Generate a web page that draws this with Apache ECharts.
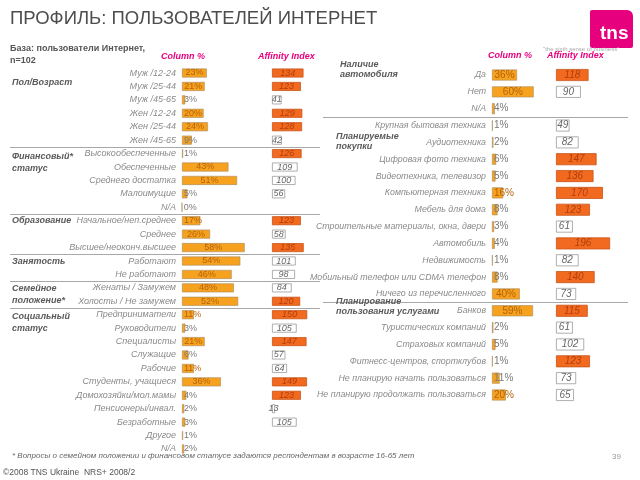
<!DOCTYPE html>
<html><head><meta charset="utf-8">
<script src="https://cdn.jsdelivr.net/npm/echarts@6/dist/echarts.min.js"></script>
<style>html,body{margin:0;padding:0;background:#fff}#c{width:640px;height:480px}</style>
</head><body><div id="c"></div><script>
// ---------- DATA ----------
const leftCategories = [
  'Муж /12-24','Муж /25-44','Муж /45-65','Жен /12-24','Жен /25-44','Жен /45-65',
  'Высокообеспеченные','Обеспеченные','Среднего достатка','Малоимущие','N/A',
  'Начальное/неп.среднее','Среднее','Высшее/неоконч.высшее',
  'Работают','Не работают',
  'Женаты / Замужем','Холосты / Не замужем',
  'Предприниматели','Руководители','Специалисты','Служащие','Рабочие',
  'Студенты, учащиеся','Домохозяйки/мол.мамы','Пенсионеры/инвал.','Безработные','Другое','N/A'
];
const leftColumnPct = [23,21,3,20,24,9, 1,43,51,5,0, 17,26,58, 54,46, 48,52, 11,3,21,6,11,36,4,2,3,1,2];
const leftAffinity  = [134,123,41,129,128,42, 126,109,100,56,null, 123,58,135, 101,98, 84,120, 150,105,147,57,64,149,123,13,105,null,null];
const leftGroupNames = ['Пол/Возраст','Финансовый*\nстатус','Образование','Занятость','Семейное\nположение*','Социальный\nстатус'];
const leftGroupStart = [0,6,11,14,16,18];

const rightCategories = [
  'Да','Нет','N/A',
  'Крупная бытовая техника','Аудиотехника','Цифровая фото техника','Видеотехника, телевизор',
  'Компьютерная техника','Мебель для дома','Строительные материалы, окна, двери','Автомобиль',
  'Недвижимость','Мобильный телефон или CDMA телефон','Ничего из перечисленного',
  'Банков','Туристических компаний','Страховых компаний','Фитнесс-центров, спортклубов',
  'Не планирую начать пользоваться','Не планирую продолжать пользоваться'
];
const rightColumnPct = [36,60,4, 1,2,6,5,16,8,3,4,1,8,40, 59,2,5,1,11,20];
const rightAffinity  = [118,90,null, 49,82,147,136,170,123,61,196,82,140,73, 115,61,102,123,73,65];
const rightGroupNames = ['Наличие\nавтомобиля','Планируемые\nпокупки','Планирование\nпользования услугами'];
const rightGroupStart = [0,3,14];

const affinityThreshold = 110;

// ---------- LAYOUT ----------
const L = {top:66.3, height:389.4, n:leftCategories.length};
const R = {top:66.6, height:336.8, n:rightCategories.length};
L.row = L.height/L.n; R.row = R.height/R.n;

const pink = '#e6007e';
const barOrange = '#f6a21e';
const affOrange = '#f26a1f';
const grayTxt = '#8a8a8a';
const groupTxt = '#5a5a5a';

const grids = [
  {left:182, width:108, top:L.top, height:L.height},
  {left:272, width:47,  top:L.top, height:L.height},
  {left:492, width:69.5, top:R.top, height:R.height},
  {left:556, width:55.2, top:R.top, height:R.height}
];
const xMax = [100,200,100,200];

function pctData(vals, gi){
  const pxPerUnit = grids[gi].width / xMax[gi];
  return vals.map(v => {
    const small = v * pxPerUnit < 22;
    return {
      value: v,
      label: small
        ? {position:'insideLeft', distance:2, color: v*pxPerUnit > 10 ? '#b4620c' : '#7a7a7a'}
        : {position:'inside', color:'#b4620c'}
    };
  });
}
function affData(vals){
  return vals.map(v => {
    if (v == null) return null;
    const hi = v > affinityThreshold;
    return {
      value: v,
      itemStyle: hi ? {color:affOrange, borderColor:'#c8541a', borderWidth:0.8}
                    : {color:'#ffffff', borderColor:'#9a9a9a', borderWidth:0.8},
      label: {color: hi ? '#b13e0c' : '#666'}
    };
  });
}

const xAxes = grids.map((g,i)=>({type:'value', gridIndex:i, min:0, max:xMax[i], show:false}));
const yAxes = [
  {type:'category', gridIndex:0, data:leftCategories, inverse:true,
   axisLine:{show:false}, axisTick:{show:false},
   axisLabel:{margin:6, fontSize:9, fontStyle:'italic', color:grayTxt, fontFamily:'Liberation Sans'}},
  {type:'category', gridIndex:1, data:leftCategories, inverse:true, show:false},
  {type:'category', gridIndex:2, data:rightCategories, inverse:true,
   axisLine:{show:false}, axisTick:{show:false},
   axisLabel:{margin:6, fontSize:8.8, fontStyle:'italic', color:grayTxt, fontFamily:'Liberation Sans'}},
  {type:'category', gridIndex:3, data:rightCategories, inverse:true, show:false}
];

const series = [
  {type:'bar', xAxisIndex:0, yAxisIndex:0, barWidth:9, data:pctData(leftColumnPct,0),
   itemStyle:{color:barOrange, borderColor:'#a88a60', borderWidth:0.6},
   label:{show:true, formatter:p=>p.value+'%', fontSize:9, fontFamily:'Liberation Sans'}, z:3},
  {type:'bar', xAxisIndex:1, yAxisIndex:1, barWidth:9, data:affData(leftAffinity),
   label:{show:true, position:'inside', fontSize:9, fontStyle:'italic', fontFamily:'Liberation Sans'}, z:3},
  {type:'bar', xAxisIndex:2, yAxisIndex:2, barWidth:11, data:pctData(rightColumnPct,2),
   itemStyle:{color:barOrange, borderColor:'#a88a60', borderWidth:0.6},
   label:{show:true, formatter:p=>p.value+'%', fontSize:10, fontFamily:'Liberation Sans'}, z:3},
  {type:'bar', xAxisIndex:3, yAxisIndex:3, barWidth:12, data:affData(rightAffinity),
   label:{show:true, position:'inside', fontSize:10, fontStyle:'italic', fontFamily:'Liberation Sans'}, z:3}
];

// ---------- GRAPHIC (text, separators, logo) ----------
const g = [];
const txt = (x,y,text,style) => g.push({type:'text', left:x, top:y, z:10,
  style:Object.assign({text, fill:groupTxt, font:'9px "Liberation Sans"'}, style)});

txt(10, 9, 'ПРОФИЛЬ: ПОЛЬЗОВАТЕЛЕЙ ИНТЕРНЕТ', {fill:'#4d4d4d', font:'18.5px "Liberation Sans"'});
txt(10, 43, 'База: пользователи Интернет,\nn=102', {fill:'#555', font:'bold 9px "Liberation Sans"', lineHeight:12});
txt(161, 52, 'Column %', {fill:pink, font:'italic bold 9px "Liberation Sans"'});
txt(258, 52, 'Affinity Index', {fill:pink, font:'italic bold 9px "Liberation Sans"'});
txt(488, 51, 'Column %', {fill:pink, font:'italic bold 9px "Liberation Sans"'});
txt(547, 51, 'Affinity Index', {fill:pink, font:'italic bold 9px "Liberation Sans"'});

// separators
leftGroupStart.slice(1).forEach(s => {
  const y = Math.round(L.top + s*L.row) + 0.5;
  g.push({type:'line', z:1, shape:{x1:10, y1:y, x2:320, y2:y}, style:{stroke:'#a8a8a8', lineWidth:1}});
});
rightGroupStart.slice(1).forEach(s => {
  const y = Math.round(R.top + s*R.row) + 0.5;
  g.push({type:'line', z:1, shape:{x1:323, y1:y, x2:628, y2:y}, style:{stroke:'#a8a8a8', lineWidth:1}});
});

// group labels
const leftGroupY = [77, 151, 215, 256, 283, 311];
leftGroupNames.forEach((t,i)=>txt(12, leftGroupY[i], t, {font:'italic bold 9px "Liberation Sans"', lineHeight:11.5}));
const rightGroupY = [59, 131, 296];
const rightGroupX = [340, 336, 336];
rightGroupNames.forEach((t,i)=>txt(rightGroupX[i], rightGroupY[i], t, {font:'italic bold 9px "Liberation Sans"', lineHeight:10.5}));

// logo
g.push({type:'rect', z:10, shape:{x:590, y:10, width:43, height:38, r:[2,6,2,2]}, style:{fill:pink}});
txt(600, 24, 'tns', {fill:'#fff', font:'bold 19px "Liberation Sans"'});
txt(543, 46, '"the sixth sense of business"', {fill:'#aaa', font:'6px "Liberation Sans"'});

// footer
txt(12, 452, '* Вопросы о семейном положении и финансовом статусе задаются респондентам в возрасте 16-65 лет', {fill:'#666', font:'italic 8px "Liberation Sans"'});
txt(3, 468, '©2008 TNS Ukraine  NRS+ 2008/2', {fill:'#555', font:'8.5px "Liberation Sans"'});
txt(612, 453, '39', {fill:'#999', font:'8px "Liberation Sans"'});

const chart = echarts.init(document.getElementById('c'), null, {renderer:'canvas'});
chart.setOption({
  animation:false,
  backgroundColor:'#fff',
  grid:grids, xAxis:xAxes, yAxis:yAxes, series, graphic:g
});
</script></body></html>
